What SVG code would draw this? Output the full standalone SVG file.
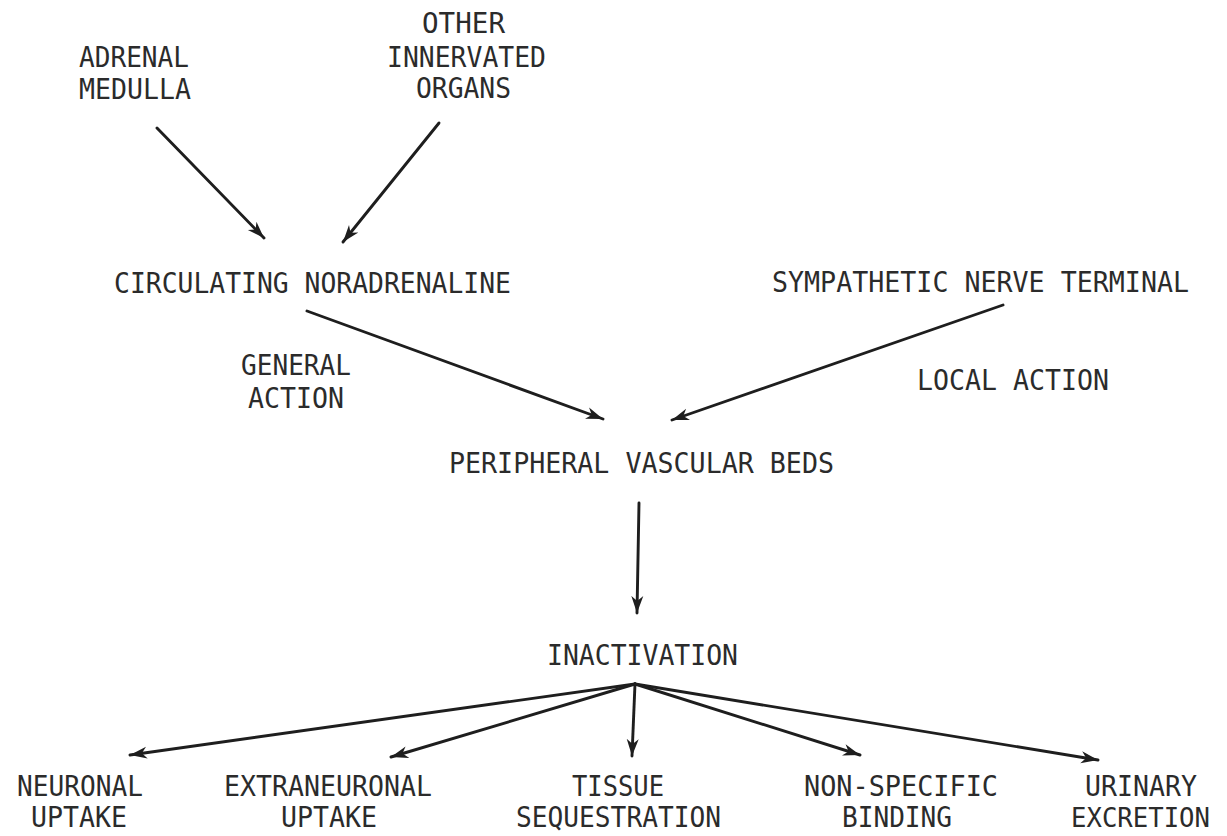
<svg xmlns="http://www.w3.org/2000/svg" width="1227" height="836" viewBox="0 0 1227 836">
<defs>
<style>
text { font-family: "DejaVu Sans Mono", "Liberation Mono", monospace; font-size: 29px; fill: #2b2b2b; }
.c { stroke: #1e1e1e; stroke-width: 2.9; fill: none; stroke-linecap: round; marker-end: url(#ah); }
</style>
<marker id="ah" markerUnits="userSpaceOnUse" markerWidth="18" markerHeight="14" refX="17" refY="7" orient="auto">
<path d="M0,1 L17,7 L0,13 L5,7 z" fill="#1e1e1e"/>
</marker>
</defs>
<rect width="1227" height="836" fill="#fff"/>
<g id="connectors">
<line class="c" x1="157" y1="128" x2="264" y2="238"/>
<line class="c" x1="439" y1="123" x2="343" y2="242"/>
<line class="c" x1="307" y1="311" x2="603" y2="419"/>
<line class="c" x1="1003" y1="305" x2="672" y2="420"/>
<line class="c" x1="639" y1="503" x2="637" y2="613"/>
<line class="c" x1="635" y1="684" x2="130" y2="755"/>
<line class="c" x1="635" y1="684" x2="391" y2="757"/>
<line class="c" x1="635" y1="684" x2="632" y2="756"/>
<line class="c" x1="635" y1="684" x2="860" y2="755"/>
<line class="c" x1="635" y1="684" x2="1098" y2="760"/>
</g>
<g id="adrenal-medulla">
<text x="79" y="67" textLength="110" lengthAdjust="spacingAndGlyphs">ADRENAL</text>
<text x="79" y="99" textLength="112" lengthAdjust="spacingAndGlyphs">MEDULLA</text>
</g>
<g id="other-organs">
<text x="422" y="33" textLength="83" lengthAdjust="spacingAndGlyphs">OTHER</text>
<text x="387" y="67" textLength="159" lengthAdjust="spacingAndGlyphs">INNERVATED</text>
<text x="416" y="98" textLength="95" lengthAdjust="spacingAndGlyphs">ORGANS</text>
</g>
<g id="circulating">
<text x="114" y="293" textLength="397" lengthAdjust="spacingAndGlyphs">CIRCULATING NORADRENALINE</text>
</g>
<g id="sympathetic">
<text x="772" y="292" textLength="417" lengthAdjust="spacingAndGlyphs">SYMPATHETIC NERVE TERMINAL</text>
</g>
<g id="general-action">
<text x="241" y="375" textLength="110" lengthAdjust="spacingAndGlyphs">GENERAL</text>
<text x="248" y="408" textLength="96" lengthAdjust="spacingAndGlyphs">ACTION</text>
</g>
<g id="local-action">
<text x="917" y="390" textLength="192" lengthAdjust="spacingAndGlyphs">LOCAL ACTION</text>
</g>
<g id="peripheral">
<text x="449" y="473" textLength="385" lengthAdjust="spacingAndGlyphs">PERIPHERAL VASCULAR BEDS</text>
</g>
<g id="inactivation">
<text x="547" y="665" textLength="191" lengthAdjust="spacingAndGlyphs">INACTIVATION</text>
</g>
<g id="neuronal-uptake">
<text x="17" y="796" textLength="126" lengthAdjust="spacingAndGlyphs">NEURONAL</text>
<text x="31" y="827" textLength="96" lengthAdjust="spacingAndGlyphs">UPTAKE</text>
</g>
<g id="extraneuronal-uptake">
<text x="224" y="796" textLength="208" lengthAdjust="spacingAndGlyphs">EXTRANEURONAL</text>
<text x="281" y="827" textLength="96" lengthAdjust="spacingAndGlyphs">UPTAKE</text>
</g>
<g id="tissue-sequestration">
<text x="572" y="796" textLength="92" lengthAdjust="spacingAndGlyphs">TISSUE</text>
<text x="516" y="827" textLength="205" lengthAdjust="spacingAndGlyphs">SEQUESTRATION</text>
</g>
<g id="non-specific-binding">
<text x="804" y="796" textLength="194" lengthAdjust="spacingAndGlyphs">NON-SPECIFIC</text>
<text x="842" y="827" textLength="110" lengthAdjust="spacingAndGlyphs">BINDING</text>
</g>
<g id="urinary-excretion">
<text x="1085" y="796" textLength="112" lengthAdjust="spacingAndGlyphs">URINARY</text>
<text x="1071" y="827" textLength="139" lengthAdjust="spacingAndGlyphs" style="font-size:26px">EXCRETION</text>
</g>
</svg>
